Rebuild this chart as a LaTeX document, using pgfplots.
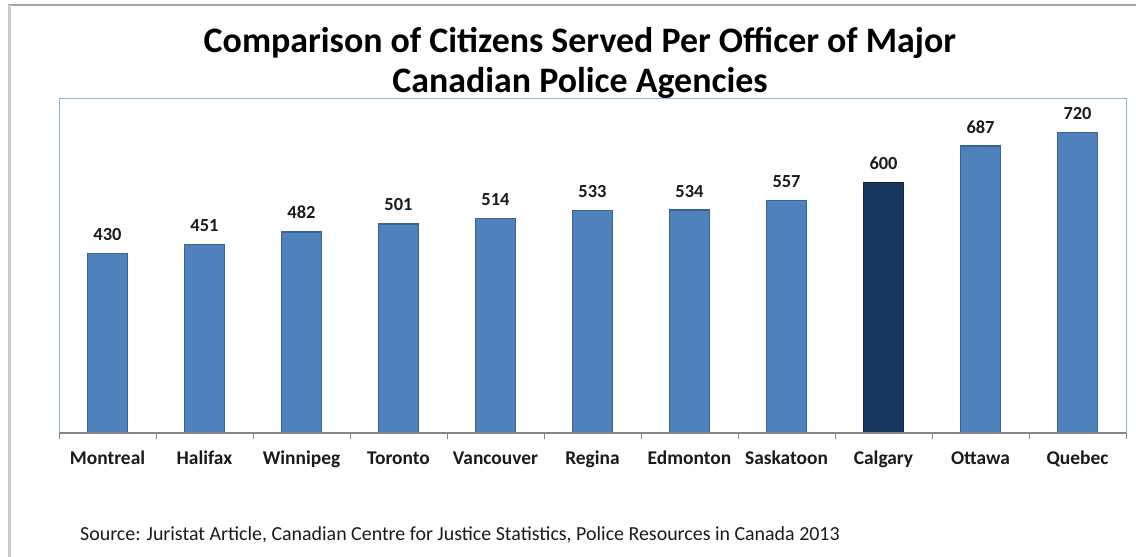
\documentclass[border=0pt]{standalone}
\usepackage{pgfplots}
\pgfplotsset{compat=1.18}
\usepackage{fontspec}
\setmainfont{Carlito}
\definecolor{barblue}{HTML}{4F81BD}
\definecolor{baredge}{HTML}{3A6496}
\definecolor{bardark}{HTML}{17375E}
\definecolor{bardarkedge}{HTML}{0F2540}
\definecolor{plotframe}{HTML}{95B3D7}
\definecolor{axisgray}{HTML}{868686}
\definecolor{txt}{HTML}{1A1A1A}
\begin{document}
\begin{tikzpicture}[x=1bp,y=1bp]
\path[use as bounding box] (0,0) rectangle (1136,557);
% outer frame
\draw[draw=black!35,line width=2bp] (8,557-5) -- (1136,557-5);
\draw[draw=black!20,line width=3bp] (9.5,557-5) -- (9.5,0);
% title
\node[font=\bfseries\fontsize{36}{40}\selectfont,text=black,anchor=base] at (580,557-53) {Comparison of Citizens Served Per Officer of Major};
\node[font=\bfseries\fontsize{36}{40}\selectfont,text=black,anchor=base] at (580,557-93) {Canadian Police Agencies};
% source
\node[font=\fontsize{20}{24}\selectfont,text=txt,anchor=base west,inner sep=0] at (80,557-541) {Source: Juristat Article, Canadian Centre for Justice Statistics, Police Resources in Canada 2013};
\begin{axis}[
  at={(59bp,124bp)}, anchor=south west,
  width=1067bp, height=334bp, scale only axis,
  xmin=-0.5, xmax=10.5, ymin=0, ymax=800,
  axis line style={draw=plotframe,line width=1bp},
  ytick=\empty,
  xtick={0,...,10},
  xticklabels={Montreal,Halifax,Winnipeg,Toronto,Vancouver,Regina,Edmonton,Saskatoon,Calgary,Ottawa,Quebec},
  minor xtick={-0.5,0.5,...,10.5},
  major tick length=0pt,
  minor tick length=6bp,
  tick align=outside,
  xtick pos=bottom,
  minor tick style={draw=axisgray,line width=1bp},
  xticklabel style={font=\bfseries\fontsize{19.5}{22}\selectfont,text=txt,anchor=base,yshift=-32bp,inner sep=0pt},
  nodes near coords,
  nodes near coords style={font=\bfseries\fontsize{18.5}{21}\selectfont,text=txt,anchor=base,inner sep=0pt,yshift=13bp},
  /pgf/number format/assume math mode=true,
  clip=false,
]
\addplot[ybar,bar width=40bp,bar shift=0pt,fill=barblue,draw=baredge,line width=1.5bp] coordinates {
 (0,430) (1,451) (2,482) (3,501) (4,514) (5,533) (6,534) (7,557) (9,687) (10,720)};
\addplot[ybar,bar width=40bp,bar shift=0pt,fill=bardark,draw=bardarkedge,line width=1.5bp] coordinates {(8,600)};
\draw[draw=axisgray,line width=2bp] (axis cs:-0.5,0) -- (axis cs:10.5,0);
\end{axis}
\end{tikzpicture}
\end{document}
